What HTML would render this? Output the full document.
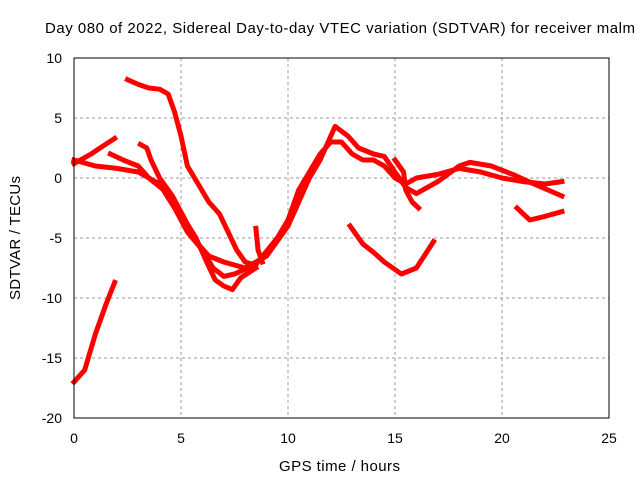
<!DOCTYPE html>
<html><head><meta charset="utf-8"><style>
body{margin:0;background:#fff}
svg{display:block;font-family:"Liberation Sans",sans-serif;font-size:14px}
</style></head><body>
<svg width="640" height="480" id="c">
<rect width="640" height="480" fill="#fff"/>
<g id="grid"></g>
<g id="series"></g>
<rect x="74" y="58" width="535" height="360" fill="none" stroke="#000" stroke-width="1"/>
<g id="ticks"></g>
<text x="45" y="33" textLength="590" lengthAdjust="spacing" style="font-size:15px">Day 080 of 2022, Sidereal Day-to-day VTEC variation (SDTVAR) for receiver malm</text>
<text x="279" y="471" textLength="121" lengthAdjust="spacing" style="font-size:15px">GPS time / hours</text>
<text transform="translate(20,300) rotate(-90)" textLength="124" lengthAdjust="spacing" style="font-size:15px">SDTVAR / TECUs</text>
</svg>
<script>
const xTicks=[0,5,10,15,20,25];
const yTicks=[10,5,0,-5,-10,-15,-20];
const seriesA=[[0,-17],[0.5,-16],[1,-13],[1.5,-10.5],[1.9,-8.7]];
const seriesB=[[2.5,8.2],[3,7.8],[3.5,7.5],[4,7.4],[4.4,7],[4.7,5.5],[5,3.5],[5.3,1],[5.8,-0.5],[6.3,-2],[6.8,-3],[7.2,-4.5],[7.6,-6],[8,-7],[8.5,-7.3]];
const seriesC=[[0,1.5],[1,1],[2,0.8],[3,0.5],[4,-0.5],[4.7,-2.5],[5.3,-4.5],[6,-6],[6.5,-7.5],[7,-8.2],[7.5,-8],[8.5,-7.2],[9.5,-5],[10,-3.5],[10.5,-1],[11,0.5],[11.5,2],[12,3],[12.5,3],[13,2],[13.5,1.5],[14,1.5],[14.5,1],[15,0],[15.5,-0.5],[16,0],[17,0.3],[18,0.8],[19,0.5],[20,0],[21,-0.3],[22,-0.5],[22.8,-0.3]];
const seriesD=[[0,1.2],[0.8,2],[1.3,2.6],[1.9,3.3]];
const seriesE=[[1.7,2],[2.3,1.5],[3,1],[3.5,0],[4.2,-1],[5,-3],[5.7,-5],[6.2,-7],[6.6,-8.5],[7,-9],[7.4,-9.3],[7.8,-8.3],[8.5,-7.5]];
const seriesF=[[3.1,2.8],[3.4,2.5],[3.6,1.5],[4,0],[4.6,-1.5],[5.2,-3.5],[5.8,-5.5],[6.3,-6.5],[7,-7],[8,-7.5],[9,-6.5],[10,-4],[10.5,-2],[11,0],[11.5,1.5],[12.2,4.3],[12.8,3.5],[13.3,2.5],[14,2],[14.5,1.8],[15,0.5],[15.5,-0.8],[16,-1.3],[17,-0.3],[18,1],[18.5,1.3],[19.5,1],[20.5,0.3],[21.5,-0.5],[22.8,-1.5]];
const seriesG=[[12.9,-4],[13.5,-5.5],[14,-6.2],[14.5,-7],[15.3,-8],[16,-7.5],[16.8,-5.3]];
const seriesH=[[20.7,-2.5],[21.3,-3.5],[22,-3.2],[22.8,-2.8]];
const seriesI=[[15,1.5],[15.4,0.5],[15.5,-1],[15.8,-2],[16.1,-2.5]];
const seriesJ=[[8.5,-4.2],[8.6,-6],[8.8,-7]];
const allSeries=[seriesA,seriesB,seriesC,seriesD,seriesE,seriesF,seriesG,seriesH,seriesI,seriesJ];
const NS="http://www.w3.org/2000/svg";
const X=v=>74+v*535/25, Y=v=>178-v*12;
const grid=document.getElementById('grid'),ticks=document.getElementById('ticks'),ser=document.getElementById('series');
function mk(t,a,p){const e=document.createElementNS(NS,t);for(const k in a)e.setAttribute(k,a[k]);p.appendChild(e);return e;}
xTicks.forEach(t=>{const x=X(t);
 if(t>0&&t<25){const g=mk('line',{x1:x,x2:x,y1:58,y2:418,stroke:'#999','stroke-dasharray':'3,3'},grid);
 
 }
 const l=mk('text',{x:x,y:443,'text-anchor':'middle'},ticks);l.textContent=t;
 
 });
yTicks.forEach(t=>{const y=Y(t);
 if(t<10&&t>-20){const g=mk('line',{x1:74,x2:609,y1:y,y2:y,stroke:'#999','stroke-dasharray':'3,3'},grid);
 
 }
 const l=mk('text',{x:62,y:y+5,'text-anchor':'end'},ticks);l.textContent=t;
 
 });
allSeries.forEach(s=>{const p=mk('polyline',{points:s.map(d=>X(d[0])+','+Y(d[1])).join(' '),fill:'none',stroke:'#f00','stroke-width':5,'stroke-linejoin':'round','stroke-linecap':'square'},ser);
 
 });
</script>
</body></html>
